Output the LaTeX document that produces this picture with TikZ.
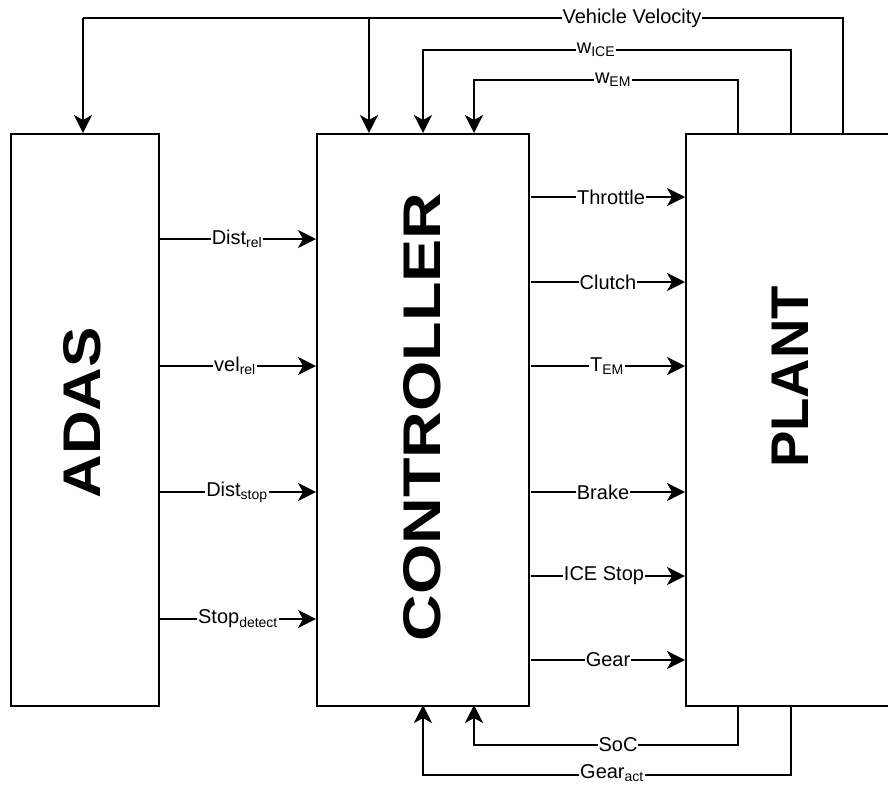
\documentclass[tikz,border=0pt]{standalone}
\usepackage{fontspec}
\setmainfont{Liberation Sans}
\usetikzlibrary{arrows.meta}
\tikzset{sigtip/.tip={Stealth[length=18pt,width=18pt,inset=5pt]}}
\begin{document}
\begin{tikzpicture}[x=1pt,y=-1pt,
  blk/.style={draw,line width=1.8pt,fill=white,inner sep=0pt,anchor=north west},
  big/.style={font=\fontsize{53}{53}\selectfont\bfseries,rotate=90},
  sig/.style={line width=1.7pt,-sigtip},
  wire/.style={line width=1.7pt},
  lab/.style={fill=white,inner sep=1pt,font=\fontsize{20}{21}\selectfont}]
\useasboundingbox (0,0) rectangle (888,785);
% blocks
\node[blk,minimum width=148pt,minimum height=572pt] (adas) at (10,133) {};
\node[blk,minimum width=212pt,minimum height=572pt] (ctrl) at (316,133) {};
\node[blk,minimum width=215pt,minimum height=572pt] (plant) at (685,133) {};
\node[big,xscale=1.14] (adasT) at (82,413) {ADAS};
\node[big,xscale=1.22] (ctrlT) at (422,417) {CONTROLLER};
\node[big,xscale=1.03] (plantT) at (790,377) {PLANT};
% coordinates on block edges
\coordinate (vvS) at (843,133);
\coordinate (wiS) at (791,133);
\coordinate (weS) at (738,133);
\coordinate (adasTop) at (83,133);
\coordinate (cvv) at (369,133);
\coordinate (cwi) at (423,133);
\coordinate (cwe) at (474,133);
% top feedback
\draw[wire] (vvS) -- (843,18) -- (83,18);
\draw[sig] (83,18) -- (adasTop);
\draw[sig] (369,18) -- (cvv);
\node[lab] (lvv) at (632,18) {Vehicle Velocity};
\draw[sig] (wiS) -- (791,50) -- (423,50) -- (cwi);
\node[lab] (lwi) at (596,50) {w\textsubscript{ICE}};
\draw[sig] (weS) -- (738,80) -- (474,80) -- (cwe);
\node[lab] (lwe) at (613,80) {w\textsubscript{EM}};
% ADAS -> controller
\foreach \yy/\t/\lx/\nm in {239/Dist\textsubscript{rel}/237/a1, 366/vel\textsubscript{rel}/235/a2, 492/Dist\textsubscript{stop}/237/a3, 619/Stop\textsubscript{detect}/238/a4}{
  \coordinate (\nm s) at (158,\yy);
  \coordinate (\nm e) at (316,\yy);
  \draw[sig] (\nm s) -- (\nm e);
  \node[lab] (\nm l) at (\lx,\yy) {\t};
}
% controller -> plant
\foreach \yy/\t/\lx/\nm in {197/Throttle/611/b1, 282/Clutch/608/b2, 366/T\textsubscript{EM}/607/b3, 492/Brake/603/b4, 576/ICE Stop/604/b5, 660/Gear/608/b6}{
  \coordinate (\nm s) at (531,\yy);
  \coordinate (\nm e) at (685,\yy);
  \draw[sig] (\nm s) -- (\nm e);
  \node[lab] (\nm l) at (\lx,\yy) {\t};
}
% bottom feedback
\coordinate (socS) at (738,705);
\coordinate (gaS) at (791,705);
\coordinate (csoc) at (474,705);
\coordinate (cga) at (423,705);
\draw[sig] (socS) -- (738,745) -- (474,745) -- (csoc);
\node[lab] (lsoc) at (618,745) {SoC};
\draw[sig] (gaS) -- (791,775) -- (423,775) -- (cga);
\node[lab] (lga) at (612,773) {Gear\textsubscript{act}};
\end{tikzpicture}
\end{document}
